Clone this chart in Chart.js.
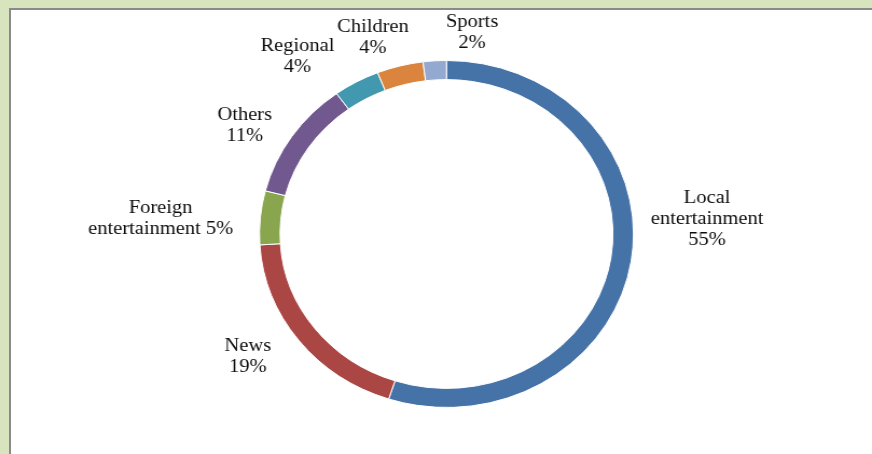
<!DOCTYPE html>
<html>
<head>
  <meta charset="UTF-8">
  <title>Programme share</title>
  <script src="https://cdn.jsdelivr.net/npm/chart.js"></script>
  <style>
    html, body { margin: 0; padding: 0; }
    body { width: 872px; height: 454px; background: #d7e4bd; position: relative; overflow: hidden; }
    .panel {
      position: absolute; left: 9px; top: 8px; right: -4px; bottom: -4px;
      background: #fff; border-left: 2px solid #8a8a8a; border-top: 2px solid #8a8a8a;
    }
    .stretch {
      position: absolute; left: 0; top: 0; width: 809px; height: 454px;
      transform: scaleX(1.0779); transform-origin: 0 0;
    }
  </style>
</head>
<body>
  <div class="panel"></div>
  <div class="stretch">
    <canvas id="chartDonut" width="809" height="454"></canvas>
  </div>

  <script>
    // categories, clockwise from 12 o'clock
    var categories = ["Local\nentertainment", "News", "Foreign\nentertainment", "Others", "Regional", "Children", "Sports"];
    var shares = [55, 19, 5, 11, 4, 4, 2];
    var colors = ["#4572a7", "#aa4643", "#89a54e", "#71588f", "#4198af", "#db843d", "#93a9cf"];

    // where each data label sits (canvas coords, before the horizontal stretch)
    var labelPos = [[656, 198], [230, 346], [149, 208], [227, 115], [276, 46], [346, 27], [438, 22]];

    // draws the Excel style labels
    var labelPlugin = {
      id: "sliceLabels",
      afterDatasetsDraw: function(chart) {
        var ctx = chart.ctx;
        ctx.save();
        ctx.font = "19px 'Liberation Serif', 'Times New Roman', serif";
        ctx.fillStyle = "#0d0d0d";
        ctx.textAlign = "center";
        ctx.textBaseline = "middle";
        categories.forEach(function(cat, i) {
          var lines = cat.split("\n");
          var pct = shares[i] + "%";
          if (i === 2) {
            // Foreign: percent sits on the same line
            lines[lines.length - 1] += " " + pct;
          } else {
            lines.push(pct);
          }
          lines.forEach(function(line, j) {
            ctx.fillText(line, labelPos[i][0], labelPos[i][1] + j * 20.8);
          });
        });
        ctx.restore();
      }
    };

    var ctx = document.getElementById("chartDonut").getContext("2d");
    var chartDonut = new Chart(ctx, {
      type: "doughnut",
      data: {
        labels: categories,
        datasets: [{
          data: shares,
          backgroundColor: colors,
          borderColor: "#ffffff",
          borderWidth: 1
        }]
      },
      options: {
        responsive: false,
        animation: false,
        cutout: "89%",
        rotation: 0,
        layout: { padding: { left: 100, right: 80.6, top: 60, bottom: 46 } },
        plugins: {
          legend: { display: false },
          tooltip: { enabled: false }
        }
      },
      plugins: [labelPlugin]
    });
  </script>
</body>
</html>
